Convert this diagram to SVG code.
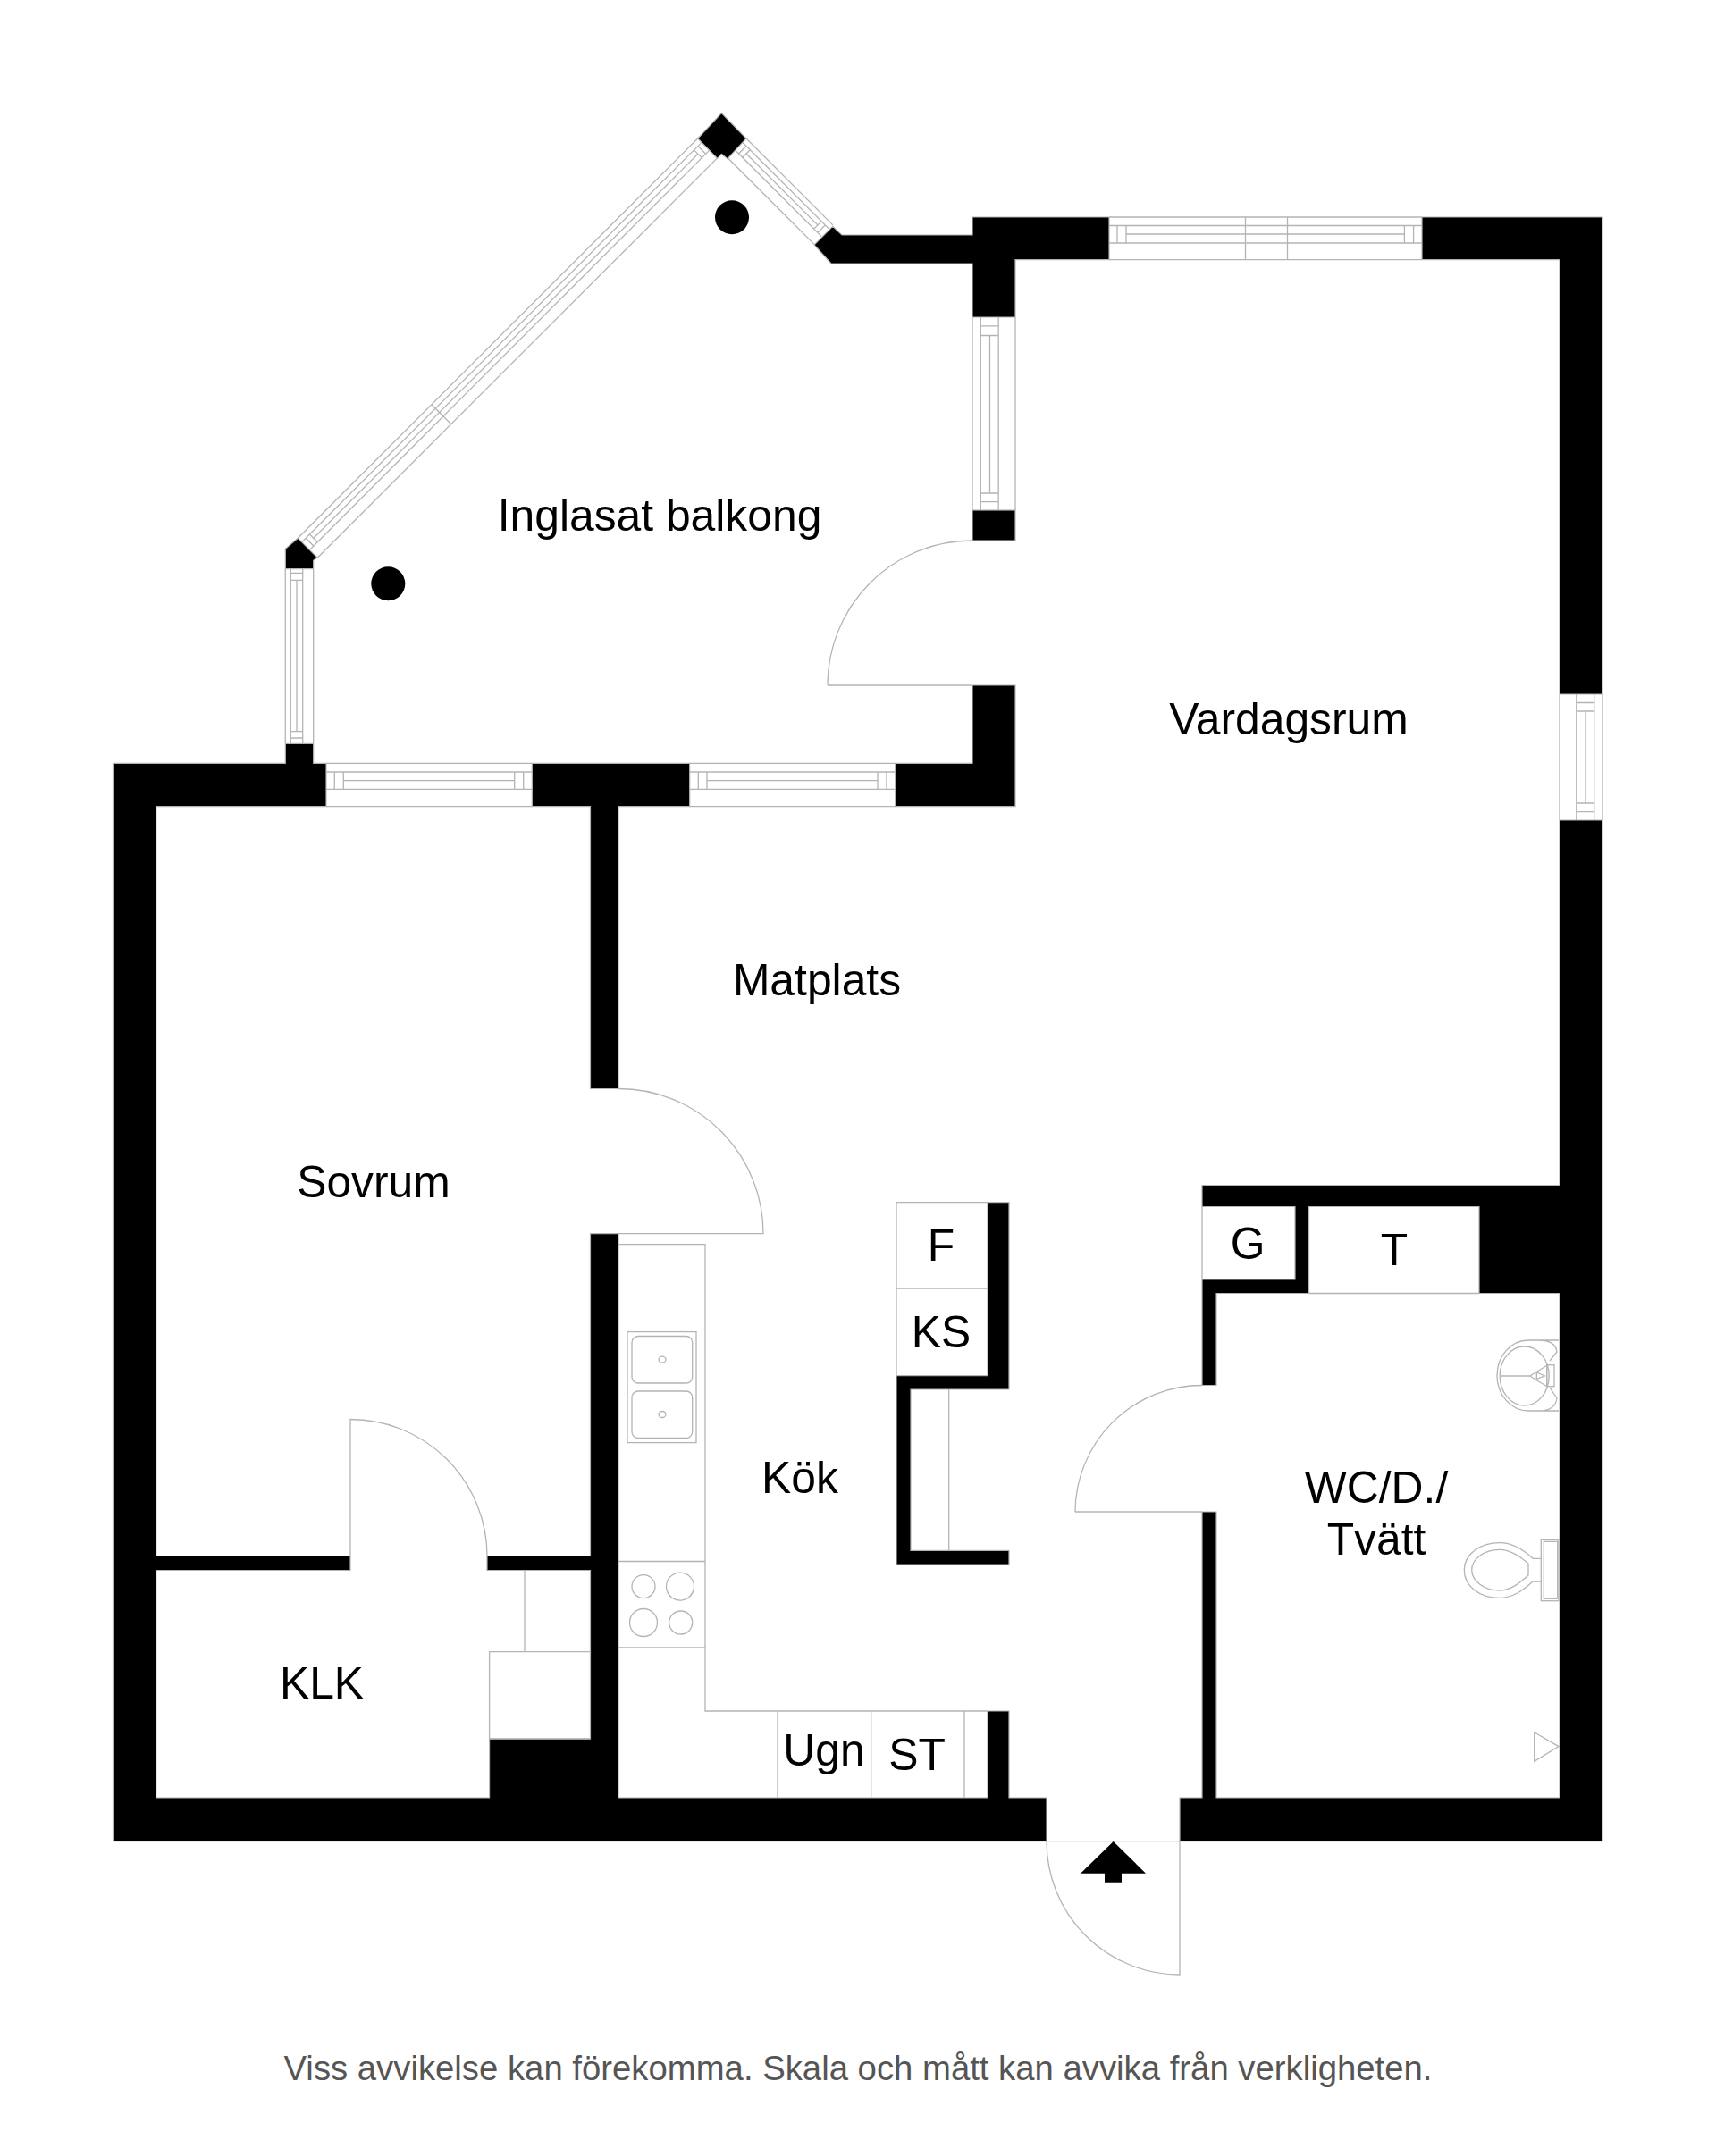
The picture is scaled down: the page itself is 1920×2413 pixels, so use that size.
<svg xmlns="http://www.w3.org/2000/svg" width="1920" height="2413" viewBox="0 0 1920 2413">
<style>
.w{fill:#000;stroke:#b4b4b4;stroke-width:1.2}
.l{fill:none;stroke:#b4b4b4;stroke-width:1.3}
.t{font-family:"Liberation Sans",Arial,sans-serif;font-size:49.8px;fill:#000;text-anchor:middle}
.f{font-family:"Liberation Sans",Arial,sans-serif;font-size:38.3px;fill:#555;text-anchor:middle}
</style>
<rect width="1920" height="2413" fill="#fff"/>
<g id="windows" class="l">
<path d="M1241 243H1591M1241 252.5H1591M1241 272H1591M1241 290.6H1591M1260 262H1571.4M1250 252.5V272M1260 252.5V272M1571.4 252.5V272M1581.6 252.5V272M1393.5 243V290.6M1440.5 243V290.6"/>
<path d="M1088 355V571M1136 355V571M1097.3 355V571M1117.2 355V571M1107.5 375.5V552M1097.3 364.8H1117.2M1097.3 375.5H1117.2M1097.3 552H1117.2M1097.3 561.6H1117.2"/>
<path d="M1745 777V918M1793 777V918M1763.8 777V918M1783.7 777V918M1774 796V899M1763.8 786.5H1783.7M1763.8 796H1783.7M1763.8 899H1783.7M1763.8 908.6H1783.7"/>
<path d="M771.7 854.3H1001.7M771.7 864H1001.7M771.7 883.3H1001.7M771.7 902.7H1001.7M791 873.7H982M781.3 864V883.3M791 864V883.3M982 864V883.3M992 864V883.3"/>
<path d="M365 854.3H595.3M365 864H595.3M365 883.3H595.3M365 902.7H595.3M384.3 873.7H575.7M374.3 864V883.3M384.3 864V883.3M575.7 864V883.3M585.7 864V883.3"/>
<path d="M319.3 636.7V832.3M350.7 636.7V832.3M325.3 636.7V832.3M338.7 636.7V832.3M332 649.3V818.7M325.3 641.3H338.7M325.3 649.3H338.7M325.3 818.7H338.7M325.3 826H338.7"/>
<g transform="translate(835 155) rotate(45)"><path d="M0 0H137M0 6H137M0 18H137M0 30H137M12 12H125M6 6V18M12 6V18M125 6V18M131 6V18"/></g>
<g transform="translate(333.3 602.3) rotate(-45)"><path d="M0 0H633M0 6.2H633M0 18.6H633M0 31H633M12.4 12.4H620.6M6.2 6.2V18.6M12.4 6.2V18.6M620.6 6.2V18.6M626.8 6.2V18.6M211.5 0V31"/></g>
</g>
<g id="walls" class="w">
<path d="M1088 243H1241V290.6H1136V355H1088V295H930L911 274L931.7 253.3L942 263H1088Z"/>
<path d="M1591 243H1793V777H1745V290.6H1591Z"/>
<rect x="1088" y="571" width="48" height="34"/>
<path d="M1088 767H1136V902.7H1001.7V854.3H1088Z"/>
<path d="M595.3 854.3H771.7V902.7H692V1218.5H660.5V902.7H595.3Z"/>
<path d="M319.3 832.3H350.7V854.3H365V902.7H174.7V1741.5H392V1757.5H174.7V2012H547.6V1946H660.5V1757.5H545V1741.5H660.5V1380.6H692V2012H1105V1915H1129V2012H1171V2060.7H126.5V854.3H319.3Z"/>
<path d="M1745 918H1793V2060.7H1320V2012H1345V1692H1361V2012H1745V1447.5H1655V1350.5H1464.5V1447.5H1361V1550.5H1345V1432H1449V1350.5H1345V1326.5H1745Z"/>
<path d="M1105 1345.7H1129V1555H1019V1735.4H1129V1751H1003V1539.6H1105Z"/>
<path d="M807.3 126.7L835 155L814 177.7L807.3 172.3L802.7 177.3L780.7 155Z"/>
<path d="M333.3 602.3L355 624L350.7 627.3V636.7H319.3V614.3Z"/>
</g>
<g id="columns"><circle cx="819" cy="243.3" r="19"/><circle cx="434.3" cy="653.3" r="19"/></g>
<g id="doors" class="l">
<path d="M926 767H1088M926 767A162 162 0 0 1 1088 605"/>
<path d="M692 1380.6H854A162 162 0 0 0 692 1218.5"/>
<path d="M392 1741.5V1588.5A153 153 0 0 1 545 1741.5"/>
<path d="M1203 1692H1345M1203 1692A142 142 0 0 1 1345 1550.5"/>
<path d="M1171 2060.7H1320V2210A149 149.3 0 0 1 1171 2060.7"/>
</g>
<g id="kitchen" class="l">
<path d="M692 1392.7H789V1915H1105M870 1915V2012M974.7 1915V2012M1079 1915V2012M692 1747.5H789M692 1844H789"/>
<rect x="702" y="1490.6" width="77" height="124"/>
<rect x="707" y="1495.5" width="67.7" height="52.5" rx="7"/>
<rect x="707" y="1557" width="67.7" height="52.5" rx="7"/>
<ellipse cx="741" cy="1521.6" rx="4" ry="3.5"/><ellipse cx="741" cy="1583" rx="4" ry="3.5"/>
<circle cx="720" cy="1775.6" r="13"/><circle cx="761" cy="1775.6" r="15.5"/>
<circle cx="720" cy="1816" r="15.5"/><circle cx="761.7" cy="1816" r="13"/>
<path d="M1003 1345.7H1105M1003 1345.7V1539.6M1003 1442H1105M1061.7 1555V1735.4"/>
</g>
<g id="closet" class="l"><path d="M587 1757.5V1848.6M547.6 1946V1848.6H660.5M547.6 1946H660.5"/></g>
<g id="bath" class="l">
<path d="M1345 1350.5V1432M1464.5 1447.5H1655"/>
<path d="M1744 1500H1710A35 39.5 0 0 0 1710 1579H1744M1722 1500Q1740 1500 1742 1513L1734 1523M1734 1553L1742 1565Q1740 1579 1722 1579"/>
<ellipse cx="1705.7" cy="1540" rx="27.5" ry="33"/>
<path d="M1679 1540H1711.7L1730.7 1528.3V1551.7L1711.7 1540M1719.3 1536V1543.3L1728.3 1540Z"/>
<rect x="1730.7" y="1527.7" width="8.3" height="24"/>
<rect x="1724.3" y="1723.3" width="19.7" height="68.4"/>
<rect x="1727.3" y="1725.3" width="15.4" height="64"/>
<path d="M1724.3 1744.3H1715C1703 1733 1692 1726.7 1678 1726.7C1655 1726.7 1638.3 1740 1638.3 1757C1638.3 1775 1655 1788.3 1678 1788.3C1692 1788.3 1703 1781 1715 1770H1724.3"/>
<path d="M1710 1750C1700 1741 1690 1734.3 1678 1734.3C1660 1734.3 1646.7 1745 1646.7 1757C1646.7 1769 1660 1780 1678 1780C1690 1780 1700 1772 1710 1763Z"/>
<path d="M1716.7 1938.8V1971.4L1744 1954.6Z"/>
</g>
<g id="entry-arrow"><path d="M1245.7 2061L1282 2096.7H1255V2106.7H1236V2096.7H1209Z"/></g>
<g id="labels">
<text class="t" x="738" y="594">Inglasat balkong</text>
<text class="t" x="1442" y="822">Vardagsrum</text>
<text class="t" x="914" y="1114">Matplats</text>
<text class="t" x="418" y="1340">Sovrum</text>
<text class="t" x="360" y="1901">KLK</text>
<text class="t" x="895" y="1671">Kök</text>
<text class="t" x="1053" y="1411">F</text>
<text class="t" x="1053" y="1508">KS</text>
<text class="t" x="922" y="1976">Ugn</text>
<text class="t" x="1026" y="1981">ST</text>
<text class="t" x="1396" y="1409">G</text>
<text class="t" x="1560" y="1416">T</text>
<text class="t" x="1540" y="1682">WC/D./</text>
<text class="t" x="1540" y="1740">Tvätt</text>
<text class="f" x="960" y="2328">Viss avvikelse kan förekomma. Skala och mått kan avvika från verkligheten.</text>
</g>
</svg>
